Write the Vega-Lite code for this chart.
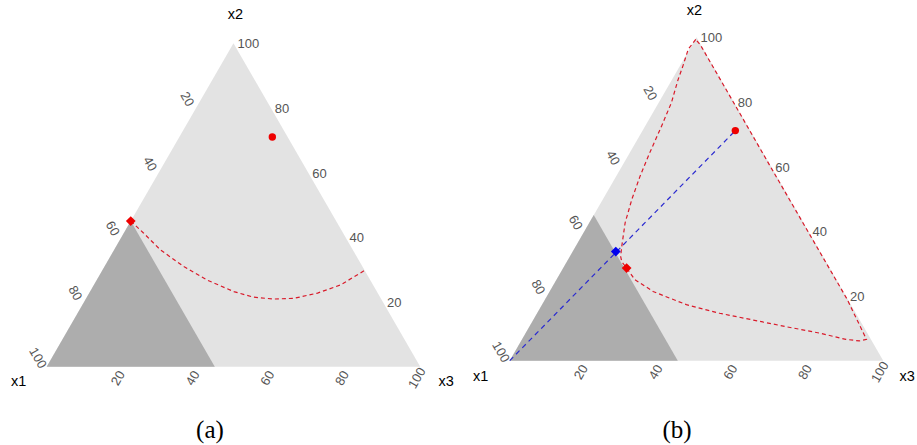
{
  "$schema": "https://vega.github.io/schema/vega-lite/v6.json",
  "padding": 0,
  "spacing": 8,
  "background": "white",
  "datasets": {
    "tri": [{"X": 0, "Y": 0}, {"X": 50, "Y": 86.6}, {"X": 100, "Y": 0}],
    "dark": [{"X": 0, "Y": 0}, {"X": 22.5, "Y": 38.97}, {"X": 45, "Y": 0}],
    "ticksL": [{"v": "20", "X": 40, "Y": 69.28}, {"v": "40", "X": 30, "Y": 51.96}, {"v": "60", "X": 20, "Y": 34.64}, {"v": "80", "X": 10, "Y": 17.32}, {"v": "100", "X": 0, "Y": 0}],
    "ticksB": [{"v": "20", "X": 20, "Y": 0}, {"v": "40", "X": 40, "Y": 0}, {"v": "60", "X": 60, "Y": 0}, {"v": "80", "X": 80, "Y": 0}, {"v": "100", "X": 100, "Y": 0}],
    "ticksR": [{"v": "20", "X": 90, "Y": 17.32}, {"v": "40", "X": 80, "Y": 34.64}, {"v": "60", "X": 70, "Y": 51.96}, {"v": "80", "X": 60, "Y": 69.28}, {"v": "100", "X": 50, "Y": 86.6}],
    "curveA": [
      {"o": 1, "X": 22.5, "Y": 38.97}, {"o": 2, "X": 25.9, "Y": 35.8}, {"o": 3, "X": 30.4, "Y": 31.3}, {"o": 4, "X": 36.7, "Y": 26.8},
      {"o": 5, "X": 42.9, "Y": 23.2}, {"o": 6, "X": 50.1, "Y": 20.1}, {"o": 7, "X": 55.4, "Y": 18.6}, {"o": 8, "X": 60.8, "Y": 18.1},
      {"o": 9, "X": 66.2, "Y": 18.3}, {"o": 10, "X": 72.5, "Y": 19.7}, {"o": 11, "X": 78.7, "Y": 21.9}, {"o": 12, "X": 85.0, "Y": 25.7}
    ],
    "curveB": [
      {"o": 1, "X": 49.8, "Y": 86.0}, {"o": 2, "X": 47.8, "Y": 83.4}, {"o": 3, "X": 46.4, "Y": 79.0}, {"o": 4, "X": 45.0, "Y": 75.0},
      {"o": 5, "X": 43.3, "Y": 69.1}, {"o": 6, "X": 40.7, "Y": 62.9}, {"o": 7, "X": 37.5, "Y": 55.7}, {"o": 8, "X": 34.9, "Y": 49.4},
      {"o": 9, "X": 32.7, "Y": 43.2}, {"o": 10, "X": 30.9, "Y": 36.9}, {"o": 11, "X": 30.0, "Y": 30.6}, {"o": 12, "X": 29.7, "Y": 27.9},
      {"o": 13, "X": 30.0, "Y": 26.5}, {"o": 14, "X": 31.3, "Y": 24.8}, {"o": 15, "X": 33.5, "Y": 21.7}, {"o": 16, "X": 37.1, "Y": 19.4},
      {"o": 17, "X": 38.4, "Y": 18.5}, {"o": 18, "X": 47.3, "Y": 15.0}, {"o": 19, "X": 56.2, "Y": 12.7}, {"o": 20, "X": 65.1, "Y": 10.9},
      {"o": 21, "X": 74.0, "Y": 9.1}, {"o": 22, "X": 82.9, "Y": 7.4}, {"o": 23, "X": 90.0, "Y": 5.7}, {"o": 24, "X": 93.6, "Y": 5.3},
      {"o": 25, "X": 95.5, "Y": 5.7}, {"o": 26, "X": 90.3, "Y": 16.5}, {"o": 27, "X": 80.0, "Y": 34.3}, {"o": 28, "X": 70.0, "Y": 51.6},
      {"o": 29, "X": 60.0, "Y": 69.0}, {"o": 30, "X": 51.0, "Y": 84.6}, {"o": 31, "X": 49.8, "Y": 86.0}
    ],
    "blueLine": [{"o": 1, "X": 0, "Y": 0}, {"o": 2, "X": 60.4, "Y": 61.6}]
  },
  "hconcat": [
    {
      "width": 455,
      "height": 445,
      "encoding": {
        "x": {"field": "X", "type": "quantitative", "scale": {"domain": [-12.5, 109.3], "zero": false, "nice": false}, "axis": null},
        "y": {"field": "Y", "type": "quantitative", "scale": {"domain": [-20.97, 98.16], "zero": false, "nice": false}, "axis": null}
      },
      "layer": [
        {"data": {"name": "tri"}, "mark": {"type": "area", "color": "#e3e3e3", "opacity": 1}, "encoding": {"y2": {"datum": 0}}},
        {"data": {"name": "dark"}, "mark": {"type": "area", "color": "#adadad", "opacity": 1}, "encoding": {"y2": {"datum": 0}}},
        {"data": {"name": "ticksL"}, "mark": {"type": "text", "angle": 60, "align": "center", "baseline": "middle", "dx": -12, "dy": 3.5, "fontSize": 13, "font": "Liberation Sans", "color": "#555555"}, "encoding": {"text": {"field": "v"}}},
        {"data": {"name": "ticksB"}, "mark": {"type": "text", "angle": 300, "align": "center", "baseline": "middle", "dx": -11.5, "dy": 3, "fontSize": 13, "font": "Liberation Sans", "color": "#555555"}, "encoding": {"text": {"field": "v"}}},
        {"data": {"name": "ticksR"}, "mark": {"type": "text", "angle": 0, "align": "left", "baseline": "middle", "dx": 4, "dy": 1, "fontSize": 13, "font": "Liberation Sans", "color": "#555555"}, "encoding": {"text": {"field": "v"}}},
        {"data": {"values": [{"label": "x1", "X": 0, "Y": 0}]}, "mark": {"type": "text", "align": "center", "baseline": "middle", "dx": -28, "dy": 15, "fontSize": 14.5, "font": "Liberation Sans", "color": "#000000"}, "encoding": {"text": {"field": "label"}}},
        {"data": {"values": [{"label": "x2", "X": 50, "Y": 86.6}]}, "mark": {"type": "text", "align": "center", "baseline": "middle", "dx": 2, "dy": -28, "fontSize": 14.5, "font": "Liberation Sans", "color": "#000000"}, "encoding": {"text": {"field": "label"}}},
        {"data": {"values": [{"label": "x3", "X": 100, "Y": 0}]}, "mark": {"type": "text", "align": "center", "baseline": "middle", "dx": 26, "dy": 15, "fontSize": 14.5, "font": "Liberation Sans", "color": "#000000"}, "encoding": {"text": {"field": "label"}}},
        {"data": {"name": "curveA"}, "mark": {"type": "line", "color": "#d91a2a", "strokeWidth": 1.2, "strokeDash": [4, 3]}, "encoding": {"order": {"field": "o", "type": "quantitative"}}},
        {"data": {"values": [{"X": 60.4, "Y": 61.5}]}, "mark": {"type": "point", "shape": "circle", "filled": true, "color": "#ee0000", "opacity": 1, "size": 55}},
        {"data": {"values": [{"X": 22.5, "Y": 38.97}]}, "mark": {"type": "point", "shape": "diamond", "filled": true, "color": "#ee0000", "opacity": 1, "size": 95}},
        {"data": {"values": [{"label": "(a)", "X": 43.7, "Y": -16.9}]}, "mark": {"type": "text", "align": "center", "baseline": "middle", "fontSize": 25, "font": "Liberation Serif", "color": "#000000"}, "encoding": {"text": {"field": "label"}}}
      ]
    },
    {
      "width": 455,
      "height": 445,
      "encoding": {
        "x": {"field": "X", "type": "quantitative", "scale": {"domain": [-12.5, 109.3], "zero": false, "nice": false}, "axis": null},
        "y": {"field": "Y", "type": "quantitative", "scale": {"domain": [-22.57, 96.56], "zero": false, "nice": false}, "axis": null}
      },
      "layer": [
        {"data": {"name": "tri"}, "mark": {"type": "area", "color": "#e3e3e3", "opacity": 1}, "encoding": {"y2": {"datum": 0}}},
        {"data": {"name": "dark"}, "mark": {"type": "area", "color": "#adadad", "opacity": 1}, "encoding": {"y2": {"datum": 0}}},
        {"data": {"name": "ticksL"}, "mark": {"type": "text", "angle": 60, "align": "center", "baseline": "middle", "dx": -12, "dy": 3.5, "fontSize": 13, "font": "Liberation Sans", "color": "#555555"}, "encoding": {"text": {"field": "v"}}},
        {"data": {"name": "ticksB"}, "mark": {"type": "text", "angle": 300, "align": "center", "baseline": "middle", "dx": -11.5, "dy": 3, "fontSize": 13, "font": "Liberation Sans", "color": "#555555"}, "encoding": {"text": {"field": "v"}}},
        {"data": {"name": "ticksR"}, "mark": {"type": "text", "angle": 0, "align": "left", "baseline": "middle", "dx": 4, "dy": 1, "fontSize": 13, "font": "Liberation Sans", "color": "#555555"}, "encoding": {"text": {"field": "v"}}},
        {"data": {"values": [{"label": "x1", "X": 0, "Y": 0}]}, "mark": {"type": "text", "align": "center", "baseline": "middle", "dx": -29, "dy": 16, "fontSize": 14.5, "font": "Liberation Sans", "color": "#000000"}, "encoding": {"text": {"field": "label"}}},
        {"data": {"values": [{"label": "x2", "X": 50, "Y": 86.6}]}, "mark": {"type": "text", "align": "center", "baseline": "middle", "dx": -2, "dy": -26, "fontSize": 14.5, "font": "Liberation Sans", "color": "#000000"}, "encoding": {"text": {"field": "label"}}},
        {"data": {"values": [{"label": "x3", "X": 100, "Y": 0}]}, "mark": {"type": "text", "align": "center", "baseline": "middle", "dx": 24, "dy": 16, "fontSize": 14.5, "font": "Liberation Sans", "color": "#000000"}, "encoding": {"text": {"field": "label"}}},
        {"data": {"name": "curveB"}, "mark": {"type": "line", "color": "#d91a2a", "strokeWidth": 1.2, "strokeDash": [4, 3]}, "encoding": {"order": {"field": "o", "type": "quantitative"}}},
        {"data": {"name": "blueLine"}, "mark": {"type": "line", "color": "#2a2ad0", "strokeWidth": 1.2, "strokeDash": [5, 4]}, "encoding": {"order": {"field": "o", "type": "quantitative"}}},
        {"data": {"values": [{"X": 60.4, "Y": 61.6}]}, "mark": {"type": "point", "shape": "circle", "filled": true, "color": "#ee0000", "opacity": 1, "size": 55}},
        {"data": {"values": [{"X": 31.3, "Y": 24.8}]}, "mark": {"type": "point", "shape": "diamond", "filled": true, "color": "#ee0000", "opacity": 1, "size": 95}},
        {"data": {"values": [{"X": 28.4, "Y": 29.2}]}, "mark": {"type": "point", "shape": "diamond", "filled": true, "color": "#0000ee", "opacity": 1, "size": 95}},
        {"data": {"values": [{"label": "(b)", "X": 44.8, "Y": -18.55}]}, "mark": {"type": "text", "align": "center", "baseline": "middle", "fontSize": 25, "font": "Liberation Serif", "color": "#000000"}, "encoding": {"text": {"field": "label"}}}
      ]
    }
  ],
  "config": {"view": {"stroke": null}}
}
